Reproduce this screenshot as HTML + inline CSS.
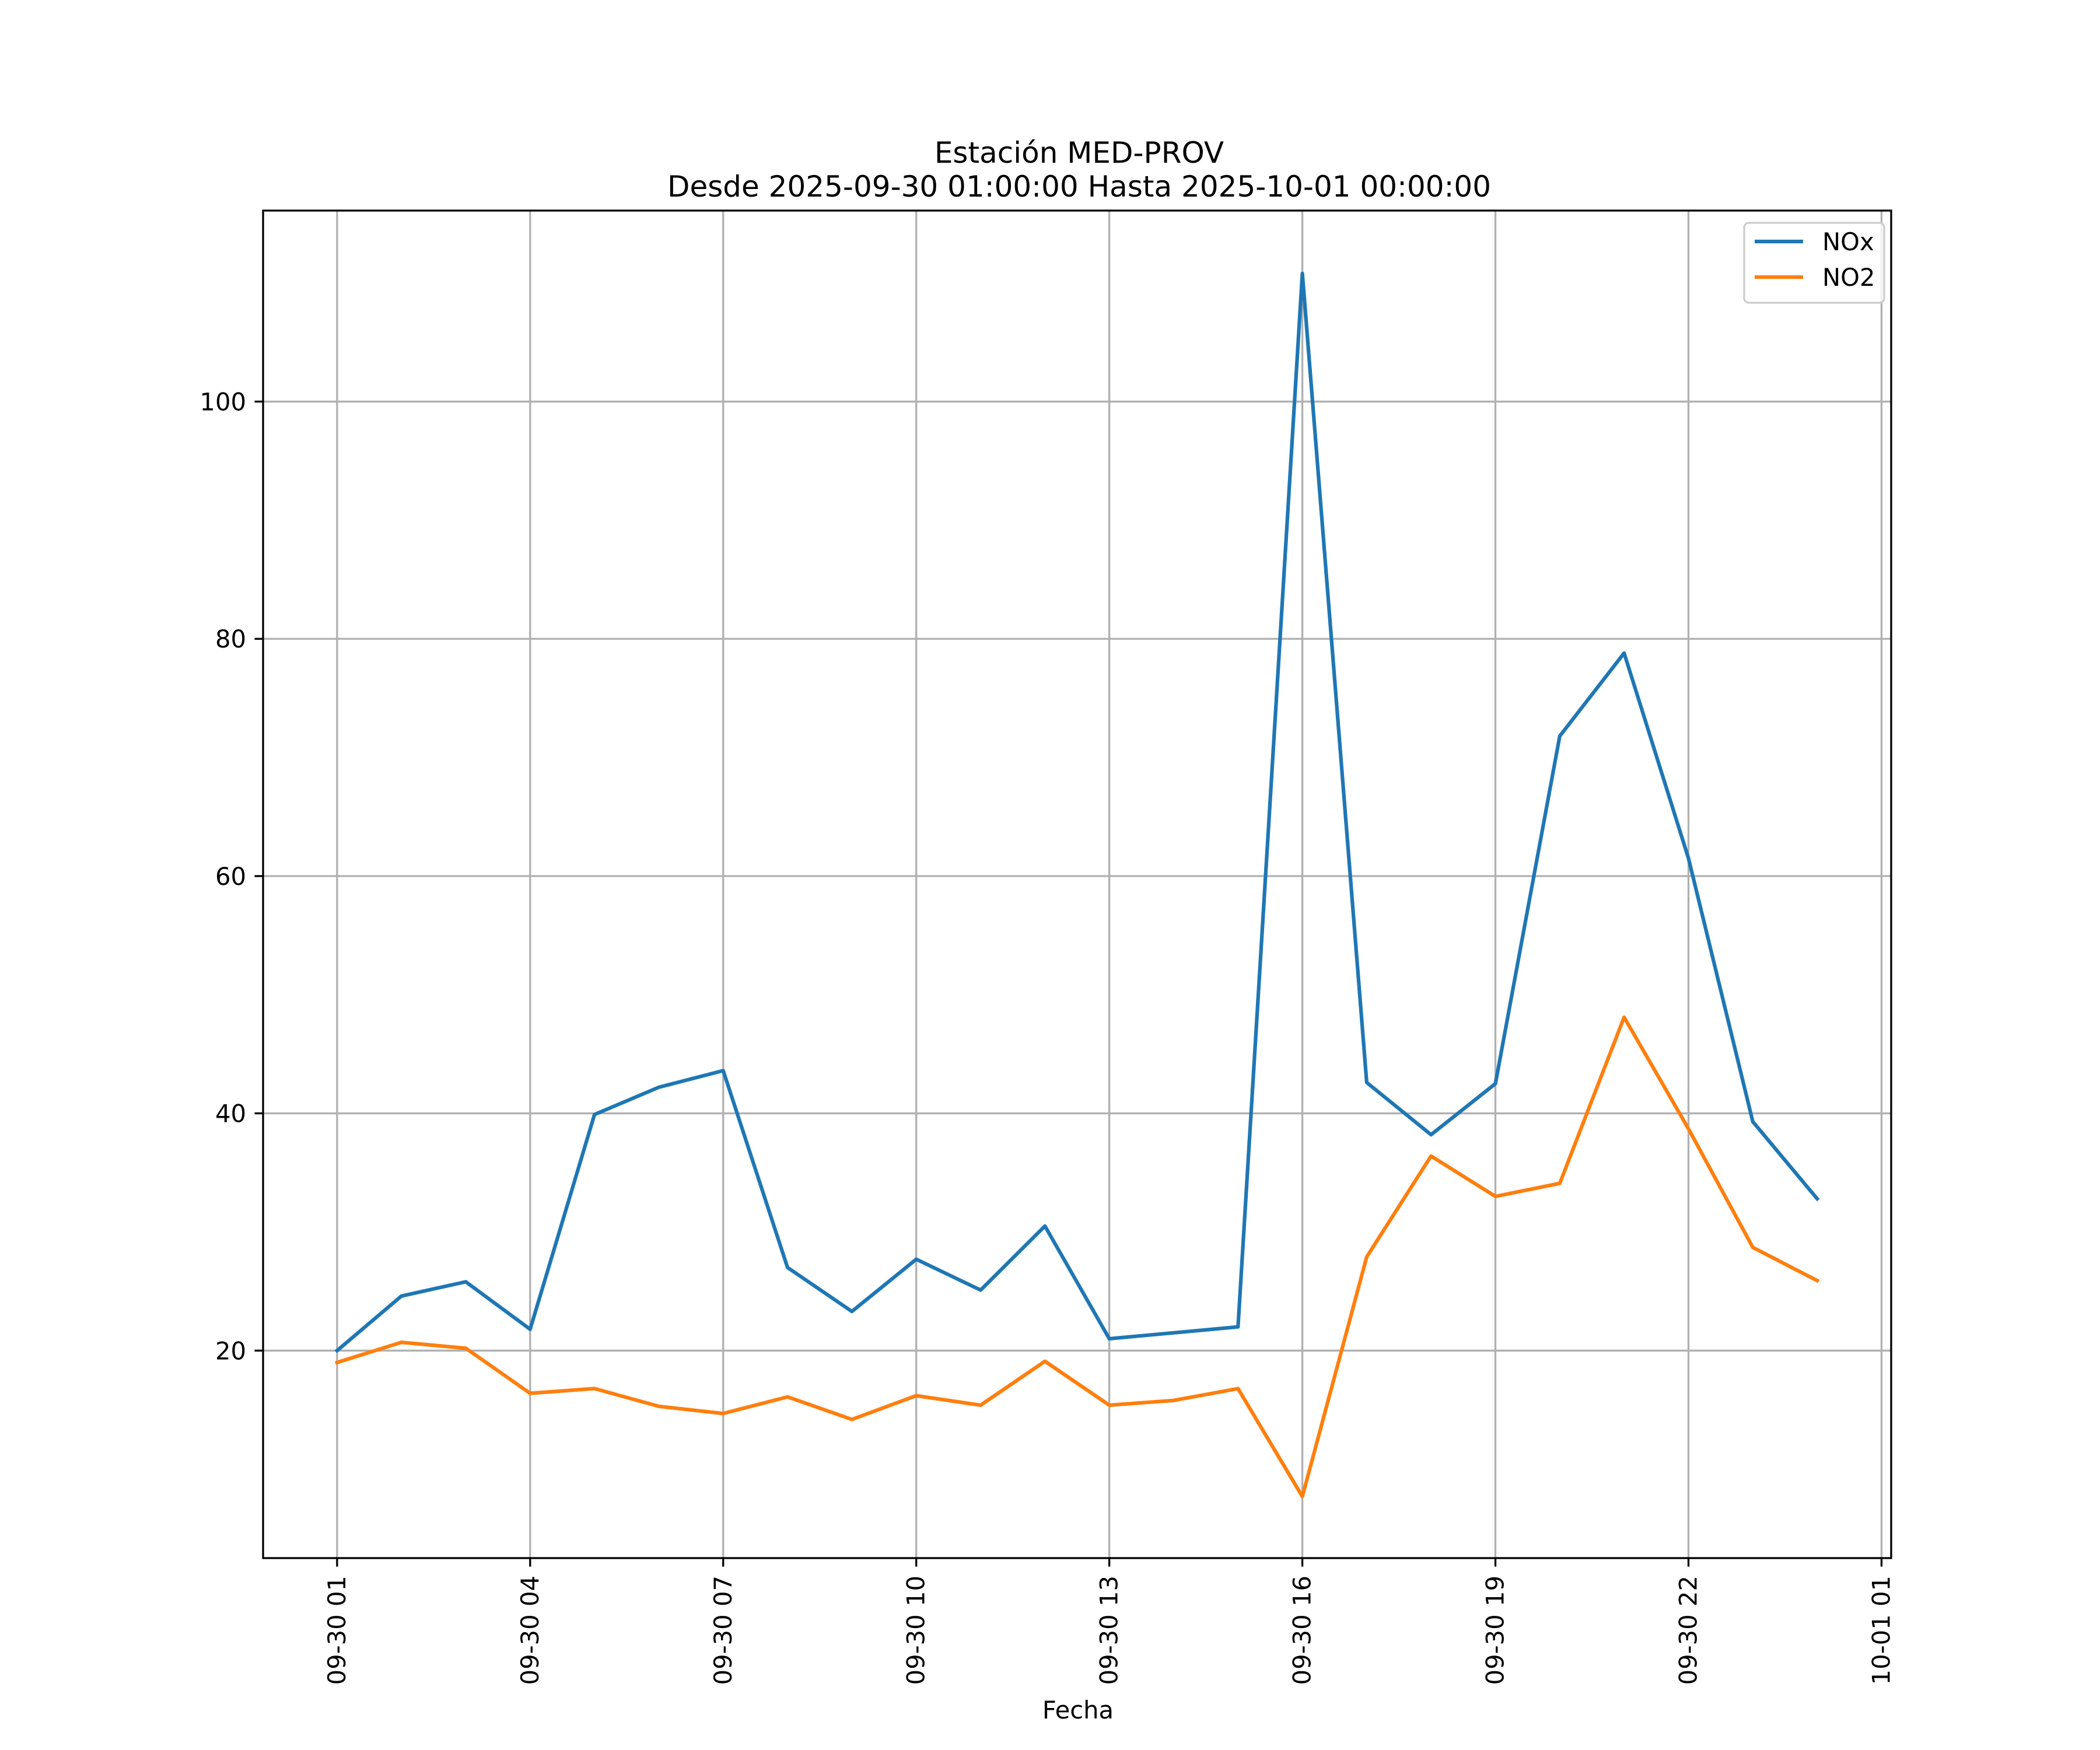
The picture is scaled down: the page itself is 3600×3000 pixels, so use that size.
<!DOCTYPE html>
<html><head><meta charset="utf-8"><style>html,body{margin:0;padding:0;background:#fff}svg{display:block}text{font-family:"DejaVu Sans","Liberation Sans",sans-serif;fill:#000}</style></head>
<body>
<svg id="chart" width="3600" height="3000" viewBox="0 0 3600 3000" xmlns="http://www.w3.org/2000/svg">
<rect width="3600" height="3000" fill="#fff"/>
<text x="1850" y="279" font-size="50" text-anchor="middle">Estación MED-PROV</text>
<text x="1850" y="337" font-size="50" text-anchor="middle">Desde 2025-09-30 01:00:00 Hasta 2025-10-01 00:00:00</text>
<g id="grid"></g>
<g id="series"></g>
<rect x="451" y="361" width="2791" height="2310" fill="none" stroke="#000" stroke-width="3.3"/>
<g id="ticks"></g>
<text x="1848" y="2946" font-size="41.7" text-anchor="middle">Fecha</text>
<g>
<rect x="2990" y="382" width="240" height="137" rx="8" fill="#fff" fill-opacity="0.8" stroke="#ccc" stroke-width="3.3"/>
<line x1="3008" y1="414" x2="3091" y2="414" stroke="#1f77b4" stroke-width="6.25"/>
<text x="3124" y="429" font-size="41.7">NOx</text>
<line x1="3008" y1="475" x2="3091" y2="475" stroke="#ff7f0e" stroke-width="6.25"/>
<text x="3124" y="490" font-size="41.7">NO2</text>
</g>
</svg>
<script>
const hours = [1,2,3,4,5,6,7,8,9,10,11,12,13,14,15,16,17,18,19,20,21,22,23,24];
const noxValues = [20.0,24.6,25.8,21.8,39.9,42.2,43.6,27.0,23.3,27.7,25.1,30.5,21.0,21.5,22.0,110.8,42.6,38.2,42.5,71.8,78.8,61.5,39.3,32.8];
const no2Values = [19.0,20.7,20.2,16.4,16.8,15.3,14.7,16.1,14.2,16.2,15.4,19.1,15.4,15.8,16.8,7.7,27.9,36.4,33.0,34.1,48.1,38.7,28.7,25.9];
const xTickHours = [1,4,7,10,13,16,19,22,25];
const xTickLabels = ["09-30 01","09-30 04","09-30 07","09-30 10","09-30 13","09-30 16","09-30 19","09-30 22","10-01 01"];
const yTicks = [20,40,60,80,100];

const L=451,R=3242,T=361,B=2671;
const xMin=1-1.15,xMax=24+1.15,yMin=2.51,yMax=116.1;
const xs=h=>L+(h-xMin)/(xMax-xMin)*(R-L);
const ys=v=>B-(v-yMin)/(yMax-yMin)*(B-T);
const NS="http://www.w3.org/2000/svg";
function mk(tag,attrs,parent){const e=document.createElementNS(NS,tag);for(const k in attrs)e.setAttribute(k,attrs[k]);parent.appendChild(e);return e;}
const grid=document.getElementById('grid'),ticks=document.getElementById('ticks'),series=document.getElementById('series');
xTickHours.forEach((h,i)=>{
  const x=xs(h);
  const g=mk('line',{x1:x,x2:x,y1:T,y2:B,stroke:'#b0b0b0','stroke-width':3.3},grid);
  
  
  const t=mk('line',{x1:x,x2:x,y1:B,y2:B+14.6,stroke:'#000','stroke-width':3.3},ticks);
  
  
  const lb=mk('text',{transform:`translate(${x+14},${B+30}) rotate(-90)`,'font-size':41.7,'text-anchor':'end'},ticks);
  lb.textContent=xTickLabels[i];
  
  
});
yTicks.forEach(v=>{
  const y=ys(v);
  const g=mk('line',{x1:L,x2:R,y1:y,y2:y,stroke:'#b0b0b0','stroke-width':3.3},grid);
  
  
  const t=mk('line',{x1:L-14.6,x2:L,y1:y,y2:y,stroke:'#000','stroke-width':3.3},ticks);
  
  
  const lb=mk('text',{x:L-29,y:y+15,'font-size':41.7,'text-anchor':'end'},ticks);
  lb.textContent=String(v);
  
  
});
function line(vals,color,name){
  const p=mk('polyline',{points:vals.map((v,i)=>xs(hours[i])+','+ys(v)).join(' '),fill:'none',stroke:color,'stroke-width':6.25,'stroke-linejoin':'round','stroke-linecap':'square'},series);
  
  
}
line(noxValues,'#1f77b4','nox-line');
line(no2Values,'#ff7f0e','no2-line');
</script>
</body></html>
